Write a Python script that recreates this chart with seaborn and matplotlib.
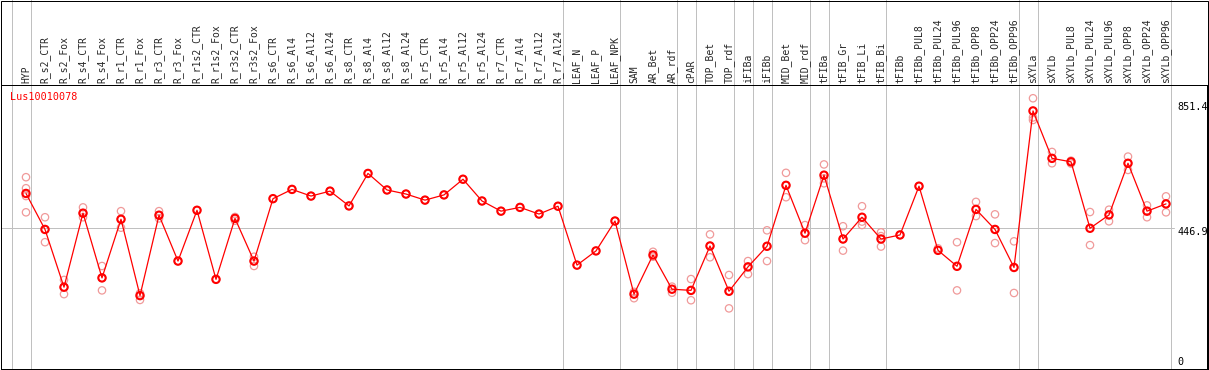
"""Expression profile of Lus10010078 across tissues/treatments."""
import matplotlib
matplotlib.use("Agg")
import matplotlib.pyplot as plt
import numpy as np
import pandas as pd
import seaborn as sns

sns.set_style("white")
plt.rcParams["font.family"] = ["DejaVu Sans Mono"]

gene = "Lus10010078"

samples = [
    "HYP", "R_s2_CTR", "R_s2_Fox", "R_s4_CTR", "R_s4_Fox", "R_r1_CTR", "R_r1_Fox",
    "R_r3_CTR", "R_r3_Fox", "R_r1s2_CTR", "R_r1s2_Fox", "R_r3s2_CTR", "R_r3s2_Fox",
    "R_s6_CTR", "R_s6_Al4", "R_s6_Al12", "R_s6_Al24", "R_s8_CTR", "R_s8_Al4",
    "R_s8_Al12", "R_s8_Al24", "R_r5_CTR", "R_r5_Al4", "R_r5_Al12", "R_r5_Al24",
    "R_r7_CTR", "R_r7_Al4", "R_r7_Al12", "R_r7_Al24", "LEAF_N", "LEAF_P", "LEAF_NPK",
    "SAM", "AR_Bet", "AR_rdf", "cPAR", "TOP_Bet", "TOP_rdf", "iFIBa", "iFIBb",
    "MID_Bet", "MID_rdf", "tFIBa", "tFIB_Gr", "tFIB_Li", "tFIB_Bi", "tFIBb",
    "tFIBb_PUL8", "tFIBb_PUL24", "tFIBb_PUL96", "tFIBb_OPP8", "tFIBb_OPP24",
    "tFIBb_OPP96", "sXYLa", "sXYLb", "sXYLb_PUL8", "sXYLb_PUL24", "sXYLb_PUL96",
    "sXYLb_OPP8", "sXYLb_OPP24", "sXYLb_OPP96",
]

means = [
    567, 443, 244, 499, 276, 478, 215, 492, 334, 509, 271, 481, 334,
    549, 581, 558, 575, 524, 636, 579, 565, 544, 562, 616, 541,
    506, 519, 496, 523, 320, 369, 472,
    220, 355, 237, 233, 386, 230, 314, 385, 595, 430, 630, 410, 485, 410, 424,
    592, 371, 316, 512, 443, 312,
    851.4, 688, 676, 447, 493, 671, 506, 531,
]

replicates = [
    [623, 585, 558, 502], [485, 443, 399], [269, 244, 220], [519, 499, 485],
    [317, 276, 233], [506, 478, 449], [223, 215, 200], [506, 492, 481],
    [334], [509], [271], [486, 473], [349, 334, 317],
    [549], [581], [558], [575], [524], [636], [579], [565], [544], [562],
    [616], [541], [506], [519], [496], [523], [320], [369], [472],
    [228, 206], [366, 349], [246, 225], [272, 233, 199], [426, 386, 347],
    [286, 230, 171], [334, 314, 289], [440, 385, 334], [638, 595, 554],
    [458, 430, 406], [667, 619, 602], [454, 410, 370], [523, 470, 458],
    [433, 420, 384], [424], [592], [378, 371], [399, 316, 233],
    [538, 512, 489], [495, 443, 396], [402, 312, 224],
    [895, 829, 820], [710, 688, 671], [680, 670], [503, 389],
    [511, 493, 471], [694, 671, 648], [526, 506, 485], [557, 531, 502],
]

# index of the last sample in each group (grey separators drawn after them)
group_ends = [-1, 0, 28, 31, 34, 35, 37, 38, 39, 41, 42, 45, 52, 53, 60]

axis_marks = [851.4, 446.9, 0]

W, H = 1209, 370
px = 72 / 100  # one pixel in points at dpi 100

idx = np.arange(len(samples))
df_mean = pd.DataFrame({"x": idx, "value": means})
df_rep = pd.DataFrame(
    [(i, v) for i, reps in enumerate(replicates) for v in reps],
    columns=["x", "value"],
)

fig = plt.figure(figsize=(W / 100, H / 100), dpi=100)
ax = fig.add_axes([1 / W, 1.3 / H, 1206 / W, 283.7 / H])

ax.set_xlim((1 - 26) / 19, (1207 - 26) / 19)
ax.set_ylim(-36.9, 940.7)

for k in group_ends:
    ax.axvline(k + 0.25, ymin=0, ymax=1.31, color="#c0c0c0", lw=px,
               clip_on=False, zorder=0)
ax.axhline(446.9, xmin=0, xmax=0.973, color="#c0c0c0", lw=px, zorder=0)

sns.scatterplot(data=df_rep, x="x", y="value", ax=ax, marker="o", s=28,
                facecolors="none", edgecolor="#f09a9a", linewidth=0.9,
                zorder=2, legend=False)
sns.lineplot(data=df_mean, x="x", y="value", ax=ax, color="#ff0000",
             lw=0.9, zorder=3, legend=False)
sns.scatterplot(data=df_mean, x="x", y="value", ax=ax, marker="o", s=28,
                facecolors="none", edgecolor="#ff0000", linewidth=1.5,
                zorder=4, legend=False)

ax.xaxis.tick_top()
ax.set_xticks(idx)
ax.set_xticklabels(samples, rotation=90, fontsize=7, va="bottom", ha="center")
ax.tick_params(axis="x", length=0, pad=1.2)
ax.set_yticks([])
ax.set_xlabel("")
ax.set_ylabel("")
for sp in ax.spines.values():
    sp.set_color("black")
    sp.set_linewidth(px)

# value marks printed inside the right edge
for v in axis_marks:
    dy = 4 if v == max(axis_marks) else -4
    ax.annotate(f"{v:g}", xy=((1177 - 1) / 1206, v),
                xycoords=("axes fraction", "data"), xytext=(0, dy),
                textcoords="offset pixels", ha="left", va="center",
                fontsize=7.3, color="black")

ax.text(9 / 1206, (368.7 - 97) / 283.7, gene, transform=ax.transAxes,
        color="#ff0000", fontsize=7.3, ha="left", va="center")

fig.add_artist(plt.Rectangle((0.5 / W, 0.5 / H), 1207 / W, 368.5 / H,
                             fill=False, edgecolor="black", lw=px,
                             transform=fig.transFigure))

fig.savefig("out.png", dpi=100)
